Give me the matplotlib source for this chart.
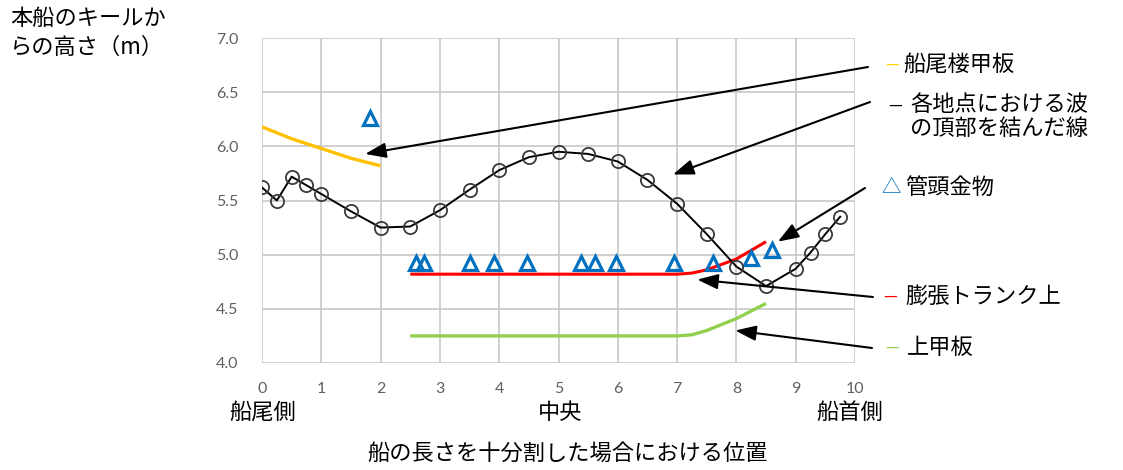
import matplotlib
matplotlib.use("Agg")
from matplotlib import pyplot as plt

plt.rcParams['font.family'] = ['Noto Sans CJK JP', 'DejaVu Sans']

# wave crest heights at each point
wave_x = [0, 0.25, 0.5, 0.75, 1.0, 1.5, 2.0, 2.5, 3.0, 3.5, 4.0, 4.5, 5.0,
          5.5, 6.0, 6.5, 7.0, 7.5, 8.0, 8.5, 9.0, 9.25, 9.5, 9.75]
wave_y = [5.62, 5.50, 5.72, 5.64, 5.56, 5.40, 5.25, 5.26, 5.41, 5.60, 5.78, 5.90, 5.95,
          5.93, 5.86, 5.69, 5.47, 5.19, 4.89, 4.71, 4.87, 5.02, 5.19, 5.35]

# poop deck
poop_x = [0, 0.5, 1.0, 1.5, 2.0]
poop_y = [6.18, 6.07, 5.98, 5.89, 5.82]

# expansion trunk top
trunk_x = [2.5, 3, 4, 5, 6, 7, 7.25, 7.5, 8.0, 8.5]
trunk_y = [4.82, 4.82, 4.82, 4.82, 4.82, 4.82, 4.83, 4.86, 4.96, 5.12]

# upper deck
deck_x = [2.5, 3, 4, 5, 6, 7, 7.25, 7.5, 8.0, 8.5]
deck_y = [4.25, 4.25, 4.25, 4.25, 4.25, 4.25, 4.26, 4.30, 4.41, 4.55]

# pipe head fittings
pipe_x = [1.82, 2.6, 2.74, 3.5, 3.92, 4.47, 5.38, 5.62, 5.97, 6.95, 7.6, 8.25, 8.6]
pipe_y = [6.26, 4.92, 4.92, 4.92, 4.92, 4.92, 4.92, 4.92, 4.92, 4.92, 4.92, 4.97, 5.04]

W, H = 1123, 470
fig = plt.figure(figsize=(W / 100, H / 100), dpi=100)
ax = fig.add_axes([262 / W, 1 - 363 / H, (855 - 262) / W, (363 - 38) / H])

ax.plot(deck_x, deck_y, color='#92D050', lw=2.4, solid_capstyle='butt')
ax.plot(trunk_x, trunk_y, color='#FF0000', lw=2.2, solid_capstyle='butt')
ax.plot(poop_x, poop_y, color='#FFC000', lw=2.4, solid_capstyle='butt')
ax.plot(pipe_x, pipe_y, ls='none', marker='^', ms=10, mfc='none', mec='#0070C0', mew=2.3)
ax.plot(wave_x, wave_y, color='black', lw=1.4, marker='o', ms=9.5, mfc='none',
        mec='#3a3a3a', mew=1.3)

ax.set_xlim(0, 10)
ax.set_ylim(4, 7)
ax.set_xticks(range(0, 11))
ax.set_yticks([4.0, 4.5, 5.0, 5.5, 6.0, 6.5, 7.0])
ax.set_yticklabels(['%.1f' % v for v in [4.0, 4.5, 5.0, 5.5, 6.0, 6.5, 7.0]])
ax.grid(True, color='#c8c8c8', lw=1.2)
ax.set_axisbelow(True)
for s in ax.spines.values():
    s.set_visible(False)
ax.tick_params(length=0, labelcolor='#606060', labelsize=11.5)
ax.tick_params(axis='x', pad=14)
ax.tick_params(axis='y', pad=17)
for lab in ax.get_xticklabels() + ax.get_yticklabels():
    lab.set_family('Lato')

def fx(px):
    return px / W

def fy(py):
    return 1 - py / H

fs = 16
fig.text(fx(10), fy(18), '本船のキールか', fontsize=fs, va='center')
fig.text(fx(10), fy(47), 'らの高さ（m）', fontsize=fs, va='center')

fig.text(fx(885), fy(64), '—', fontsize=11, color='#FFD700', va='center')
fig.text(fx(903), fy(64), '船尾楼甲板', fontsize=fs, va='center')
fig.text(fx(888), fy(105), '—', fontsize=11, color='black', va='center')
fig.text(fx(910), fy(105), '各地点における波', fontsize=fs, va='center')
fig.text(fx(910), fy(128), 'の頂部を結んだ線', fontsize=fs, va='center')
fig.text(fx(881), fy(187), '△', fontsize=14, color='#0070C0', va='center')
fig.text(fx(905), fy(187), '管頭金物', fontsize=fs, va='center')
fig.text(fx(883), fy(296), '—', fontsize=11, color='#FF0000', va='center')
fig.text(fx(905), fy(296), '膨張トランク上', fontsize=fs, va='center')
fig.text(fx(885), fy(347), '—', fontsize=11, color='#92D050', va='center')
fig.text(fx(907), fy(347), '上甲板', fontsize=fs, va='center')

fig.text(fx(263), fy(412), '船尾側', fontsize=fs, ha='center', va='center')
fig.text(fx(560), fy(412), '中央', fontsize=fs, ha='center', va='center')
fig.text(fx(850), fy(412), '船首側', fontsize=fs, ha='center', va='center')
fig.text(fx(568), fy(453), '船の長さを十分割した場合における位置', fontsize=fs,
         ha='center', va='center')

arrows = [((1.74, 5.93), (868, 67)),
          ((6.93, 5.74), (870, 102)),
          ((8.70, 5.12), (865, 188)),
          ((7.34, 4.77), (873, 297)),
          ((7.98, 4.30), (872, 348))]
for tip, tail in arrows:
    ax.annotate('', xy=tip, xycoords='data', xytext=(fx(tail[0]), fy(tail[1])),
                textcoords='figure fraction',
                arrowprops=dict(arrowstyle='-|>,head_length=0.9,head_width=0.33',
                                color='black', lw=1.5, shrinkA=0, shrinkB=0,
                                mutation_scale=14),
                annotation_clip=False)

fig.savefig('out.png', dpi=100)
